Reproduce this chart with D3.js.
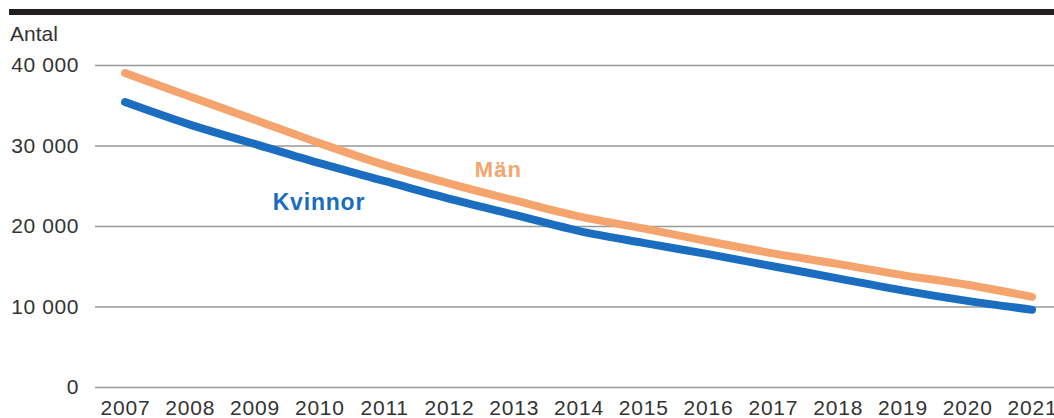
<!DOCTYPE html>
<html>
<head>
<meta charset="utf-8">
<script src="https://cdn.jsdelivr.net/npm/d3@7"></script>
<style>
  html, body { margin: 0; padding: 0; background: #fff; }
  svg { display: block; font-family: "Liberation Sans", Arial, Helvetica, sans-serif; }
</style>
</head>
<body>
<svg id="chart" width="1054" height="418"></svg>
<script>
// Antal per år, kvinnor och män
const years = [2007, 2008, 2009, 2010, 2011, 2012, 2013, 2014, 2015, 2016, 2017, 2018, 2019, 2020, 2021];
const man     = [39000, 36100, 33200, 30300, 27600, 25300, 23200, 21200, 19700, 18100, 16600, 15300, 13900, 12700, 11200];
const kvinnor = [35400, 32600, 30200, 27800, 25600, 23400, 21400, 19400, 17900, 16500, 15000, 13500, 12000, 10700, 9600];
const yTicks = [0, 10000, 20000, 30000, 40000];

const seriesNames = ["Män", "Kvinnor"];
const seriesColors = ["#f4a46c", "#1b6dc0"];

const W = 1054, H = 418;
const svg = d3.select("#chart");

const x = d3.scaleLinear().domain([2007, 2021]).range([125, 1032]);
const y = d3.scaleLinear().domain([0, 40000]).range([387, 65]);

const sv = d3.formatLocale({ decimal: ",", thousands: "\u00a0", grouping: [3], currency: ["", " kr"] });
const fmt = sv.format(",d");

// Top rule
svg.append("rect")
  .attr("x", 9).attr("y", 9)
  .attr("width", W - 9).attr("height", 6)
  .attr("fill", "#231f20");

// Unit label
svg.append("text")
  .attr("x", 10).attr("y", 41)
  .attr("font-size", 21)
  .attr("fill", "#333")
  .text("Antal");

// Y axis with gridlines
const gy = svg.append("g")
  .attr("transform", "translate(95,0)")
  .call(d3.axisLeft(y)
    .tickValues(yTicks)
    .tickSize(-(W - 95))
    .tickPadding(16)
    .tickFormat(fmt));
gy.select(".domain").remove();
gy.selectAll(".tick line").attr("stroke", "#999").attr("stroke-width", 1.5);
gy.selectAll(".tick text")
  .attr("font-size", 21)
  .attr("letter-spacing", "0.6px")
  .attr("fill", "#333")
  .attr("font-family", "'Liberation Sans', Arial, Helvetica, sans-serif");

// X axis labels
const gx = svg.append("g")
  .attr("transform", `translate(0,${y(0)})`)
  .call(d3.axisBottom(x)
    .tickValues(years)
    .tickSize(0)
    .tickPadding(13)
    .tickFormat(d3.format("d")));
gx.select(".domain").remove();
gx.selectAll(".tick text")
  .attr("font-size", 21)
  .attr("letter-spacing", "0.8px")
  .attr("fill", "#333")
  .attr("font-family", "'Liberation Sans', Arial, Helvetica, sans-serif");

// Lines
const line = d3.line()
  .x((d, i) => x(years[i]))
  .y(d => y(d))
  .curve(d3.curveMonotoneX);

[man, kvinnor].forEach((vals, k) => {
  svg.append("path")
    .datum(vals)
    .attr("fill", "none")
    .attr("stroke", seriesColors[k])
    .attr("stroke-width", 8)
    .attr("stroke-linecap", "round")
    .attr("stroke-linejoin", "round")
    .attr("d", line);
});

// Series labels
svg.append("text")
  .attr("x", x(2012.4)).attr("y", y(26100))
  .attr("font-size", 22)
  .attr("font-weight", "bold")
  .attr("letter-spacing", "1px")
  .attr("fill", seriesColors[0])
  .text(seriesNames[0]);

svg.append("text")
  .attr("x", x(2009.28)).attr("y", y(22000))
  .attr("font-size", 23)
  .attr("font-weight", "bold")
  .attr("letter-spacing", "0.8px")
  .attr("fill", seriesColors[1])
  .text(seriesNames[1]);
</script>
</body>
</html>
